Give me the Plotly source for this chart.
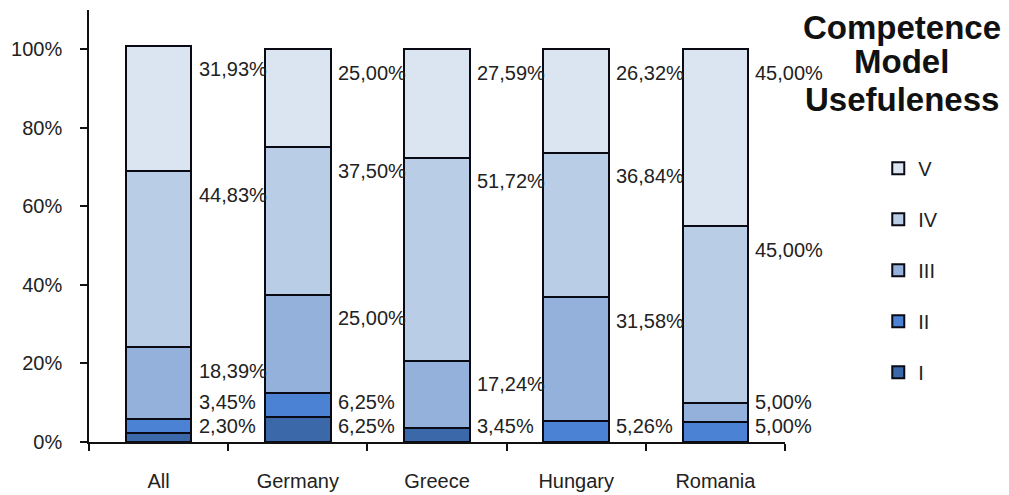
import plotly.graph_objs as go

categories = ["All", "Germany", "Greece", "Hungary", "Romania"]
levels = ["I", "II", "III", "IV", "V"]

vals_I = [2.30, 6.25, 3.45, 0, 0]
vals_II = [3.45, 6.25, 0, 5.26, 5.00]
vals_III = [18.39, 25.00, 17.24, 31.58, 5.00]
vals_IV = [44.83, 37.50, 51.72, 36.84, 45.00]
vals_V = [31.93, 25.00, 27.59, 26.32, 45.00]

y_ticks = [0, 20, 40, 60, 80, 100]
y_tick_labels = [f"{t}%" for t in y_ticks]

title_lines = ["Competence", "Model", "Usefuleness"]

series = [vals_I, vals_II, vals_III, vals_IV, vals_V]
colors = ["#3b68a9", "#4c82d3", "#93b1da", "#b9cde6", "#dbe5f2"]

FONT = "Liberation Sans, Arial, sans-serif"

fig = go.Figure()
for k, (name, vals, col) in enumerate(zip(levels, series, colors)):
    fig.add_trace(go.Bar(
        x=categories,
        y=vals,
        name=name,
        legendgroup=name,
        legendrank=len(levels) - k,
        marker=dict(color=col, line=dict(color="#0a0a14", width=2)),
    ))

# data labels to the right of each bar, stacked upward without overlap
for i, cat in enumerate(categories):
    base = 0
    prev = None
    for vals in series:
        v = vals[i]
        top = base + v
        if v > 0:
            y = max(top - 6, base + v / 2, 4)
            if prev is not None and y < prev + 6.3:
                y = prev + 6.3
            prev = y
            fig.add_annotation(
                x=cat, y=y, xref="x", yref="y",
                text=f"{v:.2f}".replace(".", ",") + "%",
                showarrow=False, xanchor="left", yanchor="middle",
                xshift=38,
                font=dict(family=FONT, size=20, color="#222"),
            )
        base = top

# legend title, one line at a time for tighter line spacing
title_y = [1.0046, 0.926, 0.839]
for line, ty in zip(title_lines, title_y):
    fig.add_annotation(
        x=1.168, y=ty, xref="paper", yref="paper",
        text=f"<b>{line}</b>",
        showarrow=False, xanchor="center", yanchor="top", borderpad=0,
        font=dict(family=FONT, size=33, color="#111"),
    )

# page body adds an 8px offset, so the figure is 8px smaller each way
fig.update_layout(
    barmode="stack",
    bargap=0.53,
    width=1001,
    height=487,
    margin=dict(l=81, r=224, t=2, b=53, autoexpand=False),
    plot_bgcolor="white",
    paper_bgcolor="white",
    font=dict(family=FONT, size=20, color="#222"),
    legend=dict(
        x=1.134, y=0.679, xanchor="left", yanchor="top",
        traceorder="grouped",
        tracegroupgap=22,
        font=dict(family=FONT, size=20, color="#222"),
    ),
    xaxis=dict(
        range=[-0.5, len(categories) - 0.5], automargin=False,
        showline=True, linecolor="#111", linewidth=1.5,
        ticks="outside", ticklen=7, tickcolor="#111", tickwidth=1.5,
        tickson="boundaries", showgrid=False,
        ticklabelstandoff=20,
    ),
    yaxis=dict(
        range=[0, 110], tickvals=y_ticks, ticktext=y_tick_labels,
        automargin=False,
        showline=True, linecolor="#111", linewidth=1.5,
        ticks="outside", ticklen=7, tickcolor="#111", tickwidth=1.5,
        showgrid=False, zeroline=False,
        ticklabelstandoff=14,
    ),
)

fig.write_html("out.html")
